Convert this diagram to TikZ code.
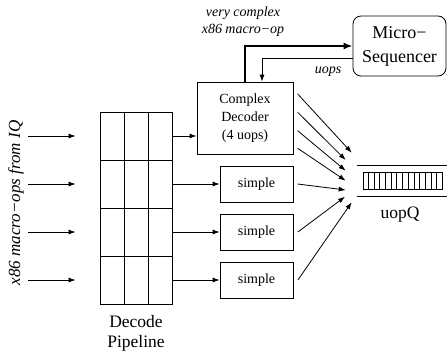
\documentclass[tikz,border=0pt]{standalone}
\usepackage{fontspec}
\setmainfont{Liberation Serif}
\usetikzlibrary{arrows.meta,calc}
\begin{document}
\begin{tikzpicture}[x=1pt,y=-1pt,
  line width=0.8pt,
  arr/.style={-{Latex[length=7pt,width=5pt]}},
  thickarr/.style={line width=2.4pt,-{Latex[length=9pt,width=7pt]}},
  box/.style={draw, rectangle, inner sep=0pt, align=center},
  lbl/.style={font=\fontsize{14}{17}\selectfont\itshape, align=center, inner sep=0pt},
  big/.style={font=\fontsize{17.5}{20}\selectfont, align=center, inner sep=0pt},
]
\useasboundingbox (0,0) rectangle (447,356);

% Micro-sequencer
\node[box, rounded corners=8pt, minimum width=93pt, minimum height=60pt,
      font=\fontsize{18}{24}\selectfont] (ms) at (399.5,46) {Micro−\\Sequencer};

% complex decoder
\node[box, minimum width=96pt, minimum height=72pt,
      font=\fontsize{14}{18}\selectfont] (cd) at (245,118) {Complex\\Decoder\\(4 uops)};

% simple decoders
\foreach \i/\y in {1/184,2/232,3/280}
  \node[box, minimum width=73pt, minimum height=36pt,
        font=\fontsize{14}{17}\selectfont] (s\i) at (256.5,\y) {simple};

% decode pipeline rows
\foreach \i/\y in {1/136,2/184,3/232,4/280}
  \node[draw, minimum width=71.3pt, minimum height=48pt, inner sep=0pt] (r\i) at (136.3,\y) {};
\foreach \k in {1,2}
  \draw ($(r1.north west)!\k/3!(r1.north east)$) -- ($(r4.south west)!\k/3!(r4.south east)$);
\node[big] (dp) at (136,333) {Decode\\Pipeline};

% inputs
\node[rotate=90, inner sep=0pt, font=\fontsize{17}{20}\selectfont\itshape] (src) at (16,203) {x86 macro−ops from IQ};
\foreach \i in {1,...,4} {
  \coordinate (in\i) at ([xshift=-72.7pt]r\i.west);
  \coordinate (ie\i) at ([xshift=-24.7pt]r\i.west);
  \draw[arr] (in\i) -- (ie\i);
}

% pipeline to decoders
\draw[arr] (r1.east) -- (r1.east -| cd.west);
\draw[arr] (r2.east) -- (s1.west);
\draw[arr] (r3.east) -- (s2.west);
\draw[arr] (r4.east) -- (s3.west);

% microsequencer connections
\draw[thickarr] (cd.north) |- (ms.west);
\draw[arr] ([yshift=-12pt]ms.west) -| ([xshift=17pt]cd.north);
\node[lbl] (vc) at (243,22) {very complex\\x86 macro−op};
\node[lbl] (uo) at (328,72) {uops};

% uop queue
\node[minimum width=90pt, minimum height=30.2pt, inner sep=0pt] (uq) at (402,180.6) {};
\draw (uq.north west) -- (uq.north east) (uq.south west) -- (uq.south east);
\node[draw, minimum width=79pt, minimum height=17pt, inner sep=0pt] (qb) at (402.5,180.5) {};
\foreach \k in {1,...,13}
  \draw ($(qb.south west)!\k/14!(qb.south east)$) -- ($(qb.north west)!\k/14!(qb.north east)$);
\node[big] (ql) at (400,215) {uopQ};

% converging arrows
\coordinate (t1) at (351.7,152.7);
\coordinate (t2) at (345.7,160);
\coordinate (t3) at (345.7,170.7);
\coordinate (t4) at (345.7,180.7);
\coordinate (t5) at (345.7,190);
\coordinate (t6) at (345,196.7);
\coordinate (t7) at (351.7,202.3);
\draw[arr] ([xshift=4.3pt,yshift=24pt]cd.east) -- (t1);
\draw[arr] ([xshift=4.3pt,yshift=5.7pt]cd.east) -- (t2);
\draw[arr] ([xshift=4.3pt,yshift=-12.7pt]cd.east) -- (t3);
\draw[arr] ([xshift=4.3pt,yshift=-30.3pt]cd.east) -- (t4);
\draw[arr] ([xshift=4.3pt]s1.east) -- (t5);
\draw[arr] ([xshift=4.5pt]s2.east) -- (t6);
\draw[arr] ([xshift=4.5pt]s3.east) -- (t7);
\end{tikzpicture}
\end{document}
